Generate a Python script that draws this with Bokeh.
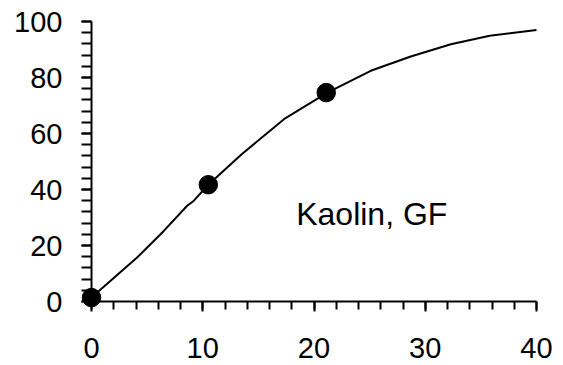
from bokeh.plotting import figure
from bokeh.models import SingleIntervalTicker, Range1d, Label
from bokeh.embed import file_html
from bokeh.resources import INLINE

# Data
curve_x = [0, 4.1, 6.5, 8.6, 9.2, 10.5, 13.5, 17.3, 21.2, 25.1, 28.7, 32.3, 35.8, 40]
curve_y = [1.4, 15.7, 25.2, 34.2, 36.0, 41.7, 52.6, 65.1, 74.6, 82.4, 87.5, 91.9, 94.9, 97.0]
points_x = [0, 10.5, 21.1]
points_y = [1.4, 41.7, 74.6]
label_text = "Kaolin, GF"

FONT = "Liberation Sans"

p = figure(width=563, height=365, output_backend="svg", toolbar_location=None,
           x_range=Range1d(0, 40), y_range=Range1d(0, 100),
           min_border_left=91, min_border_right=27, min_border_top=21, min_border_bottom=64)
p.outline_line_color = None
p.grid.visible = False
p.background_fill_color = "white"
p.border_fill_color = "white"

line_r = p.line(curve_x, curve_y, line_color="black", line_width=2)
line_r.level = "overlay"
pts_r = p.scatter(points_x, points_y, size=18.5, fill_color="black", line_color="black")
pts_r.level = "overlay"

p.add_layout(Label(x=18.4, y=31.1, text=label_text, text_font=FONT, text_font_size="32px",
                   text_color="black", text_baseline="alphabetic", text_align="left"))

for ax in (p.xaxis[0], p.yaxis[0]):
    ax.axis_line_color = "black"
    ax.axis_line_width = 2
    ax.major_tick_line_color = "black"
    ax.major_tick_line_width = 2
    ax.minor_tick_line_color = "black"
    ax.minor_tick_line_width = 2
    ax.major_tick_in = 0
    ax.major_tick_out = 10
    ax.minor_tick_in = 0
    ax.major_label_text_font = FONT
    ax.major_label_text_font_size = "29px"
    ax.major_label_text_color = "black"

p.xaxis[0].ticker = SingleIntervalTicker(interval=10, num_minor_ticks=5)
p.yaxis[0].ticker = SingleIntervalTicker(interval=20, num_minor_ticks=5)
p.xaxis[0].minor_tick_out = 8
p.yaxis[0].minor_tick_out = 10
p.xaxis[0].major_label_standoff = 26
p.yaxis[0].major_label_standoff = 19

open("out.html", "w").write(file_html(p, INLINE))
